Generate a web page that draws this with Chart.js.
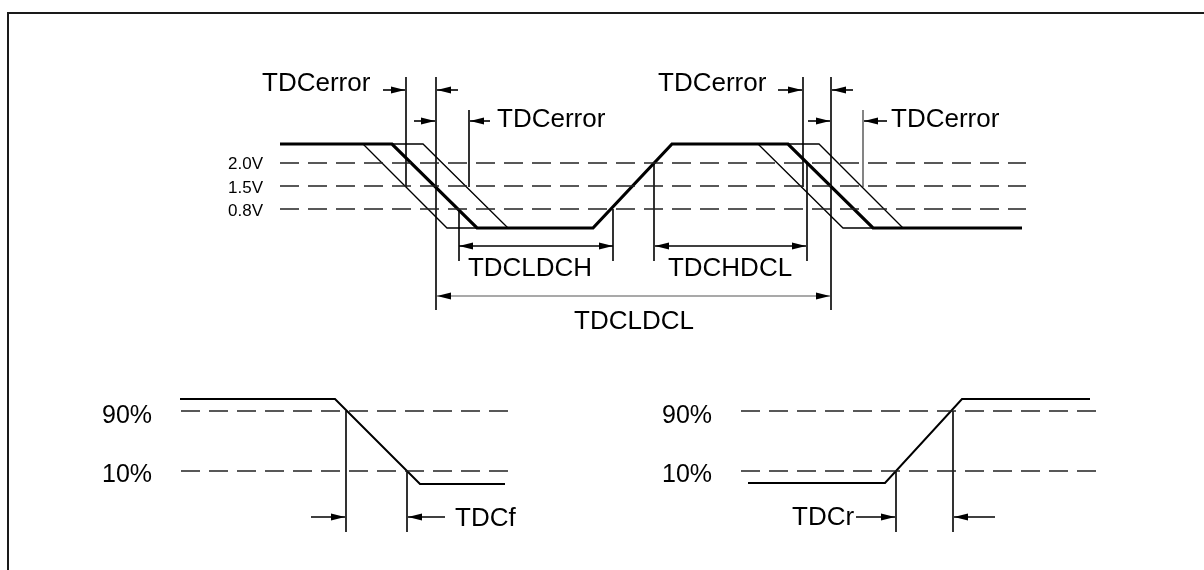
<!DOCTYPE html>
<html lang="en">
  <head>
    <meta charset="UTF-8" />
    <title>DC timing</title>
    <script src="https://cdn.jsdelivr.net/npm/chart.js"></script>
    <style>
      body { margin: 0; background: #fff; }
      #wrap { position: relative; width: 1204px; height: 570px; overflow: hidden; }
      #frame {
        position: absolute; left: 7px; top: 12px; width: 1300px; height: 700px;
        border-top: 2px solid #1a1a1a; border-left: 2px solid #1a1a1a;
      }
      #chart { position: absolute; left: 0; top: 0; }
    </style>
  </head>
  <body>
    <div id="wrap">
      <div id="frame"></div>
      <canvas id="chart" width="1204" height="570"></canvas>
    </div>

    <script>
      // diagram units: x = time, y = level (drawn downward)
      const clockMain = [[280,144],[392,144],[477,228],[593,228],[672,144],[788,144],[873,228],[1022,228]];
      const errEarly1 = [[363,144],[447,228],[477,228]];
      const errLate1 = [[392,144],[423,144],[508,228]];
      const errEarly2 = [[758,144],[843,228],[873,228]];
      const errLate2 = [[788,144],[819,144],[903,228]];
      const fallEdge = [[180,399],[335,399],[420,484],[505,484]];
      const riseEdge = [[748,483],[885,483],[962,399],[1090,399]];

      // threshold levels: [y, xStart, xEnd]
      const voltLevels = [[163,280,1026],[186,280,1026],[209,280,1026]];
      const pctLevels = [[411,181,513],[471,181,513],[411,741,1102],[471,741,1102]];

      // marker lines: [x, yTop, yBottom]
      const markers = [
        [406,77,187],[436,77,310],[469,110,187],[459,209,261],[613,209,261],
        [654,163,261],[807,163,261],[803,77,187],[831,77,310],[863,110,187],
        [346,411,532],[407,471,532],[896,471,532],[953,411,532]
      ];

      // arrows: [xTail, xTip, y]
      const arrows = [
        [383,405,90],[458,437,90],[414,435,121],[490,470,121],
        [778,802,90],[853,832,90],[808,830,121],[887,864,121],
        [311,345,517],[445,408,517],[856,895,517],[995,954,517]
      ];
      // double arrows: [xLeft, xRight, y]
      const spans = [[459,613,246],[655,806,246],[437,830,296]];

      // labels: [text, x, y, align, size]
      const labels = [
        ["TDCerror",262,91,"left",26],["TDCerror",497,127,"left",26],
        ["TDCerror",658,91,"left",26],["TDCerror",891,127,"left",26],
        ["2.0V",263,169,"right",17],["1.5V",263,193,"right",17],["0.8V",263,216,"right",17],
        ["TDCLDCH",530,276,"center",26],["TDCHDCL",730,276,"center",26],["TDCLDCL",634,329,"center",26],
        ["90%",102,423,"left",25],["10%",102,482,"left",25],
        ["90%",662,423,"left",25],["10%",662,482,"left",25],
        ["TDCf",455,526,"left",26],["TDCr",792,525,"left",26]
      ];

      const pts = (arr) => arr.map(([x, y]) => ({ x, y }));
      const line = (data, width, extra) =>
        Object.assign({ data: pts(data), showLine: true, borderColor: "#000", borderWidth: width,
          pointRadius: 0, tension: 0, fill: false }, extra || {});

      const datasets = [];
      voltLevels.concat(pctLevels).forEach(([y, a, b]) =>
        datasets.push(line([[a, y], [b, y]], 1.3, { borderColor: "#222", borderDash: [19, 9] })));
      [errEarly1, errLate1, errEarly2, errLate2].forEach((d) => datasets.push(line(d, 1.3)));
      datasets.push(line(clockMain, 3.2));
      datasets.push(line(fallEdge, 2));
      datasets.push(line(riseEdge, 2));
      markers.forEach(([x, a, b], i) =>
        datasets.push(line([[x, a], [x, b]], 1.6, { borderColor: i === 9 ? "#666" : "#000" })));
      arrows.forEach(([a, b, y]) => datasets.push(line([[a, y], [b, y]], 1.6, { arrowTip: [b, a] })));
      spans.forEach(([a, b, y], i) =>
        datasets.push(line([[a, y], [b, y]], i === 2 ? 1.2 : 1.6,
          { borderColor: i === 2 ? "#555" : "#000", arrowBoth: true })));

      const annotate = {
        id: "annotate",
        afterDatasetsDraw(chart) {
          const ctx = chart.ctx;
          const xs = chart.scales.x, ys = chart.scales.y;
          const head = (tipX, tailX, y) => {
            const px = xs.getPixelForValue(tipX), py = ys.getPixelForValue(y);
            const dir = Math.sign(xs.getPixelForValue(tipX) - xs.getPixelForValue(tailX));
            ctx.beginPath();
            ctx.moveTo(px, py);
            ctx.lineTo(px - dir * 14, py - 3.6);
            ctx.lineTo(px - dir * 14, py + 3.6);
            ctx.closePath();
            ctx.fill();
          };
          ctx.save();
          ctx.fillStyle = "#000";
          chart.data.datasets.forEach((ds) => {
            const y = ds.data[0].y;
            if (ds.arrowTip) head(ds.arrowTip[0], ds.arrowTip[1], y);
            if (ds.arrowBoth) {
              head(ds.data[0].x, ds.data[1].x, y);
              head(ds.data[1].x, ds.data[0].x, y);
            }
          });
          labels.forEach(([t, x, y, align, size]) => {
            ctx.font = size + 'px "Liberation Sans", Arial, sans-serif';
            ctx.textAlign = align;
            ctx.textBaseline = "alphabetic";
            ctx.fillText(t, xs.getPixelForValue(x), ys.getPixelForValue(y));
          });
          ctx.restore();
        },
      };

      new Chart(document.getElementById("chart"), {
        type: "scatter",
        data: { datasets },
        options: {
          responsive: false,
          animation: false,
          devicePixelRatio: 1,
          layout: { padding: 0 },
          scales: {
            x: { type: "linear", min: 0, max: 1204, display: false },
            y: { type: "linear", min: 0, max: 570, reverse: true, display: false },
          },
          plugins: { legend: { display: false }, tooltip: { enabled: false } },
        },
        plugins: [annotate],
      });
    </script>
  </body>
</html>
